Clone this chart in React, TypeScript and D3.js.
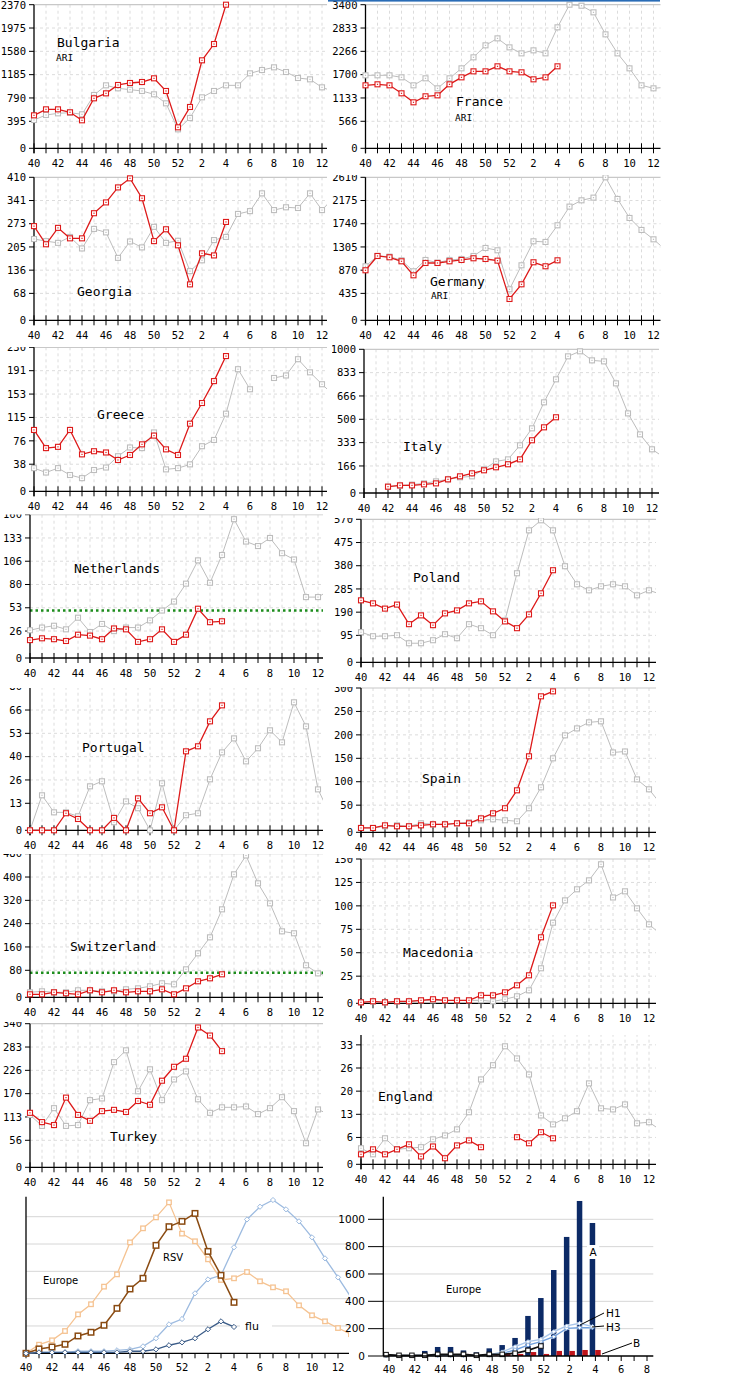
import React, { useEffect, useRef } from "react";
import * as d3 from "d3";

// weeks of the season, 40 .. 13 (13 is only partly visible at the right edge)
const weeks = [40, 41, 42, 43, 44, 45, 46, 47, 48, 49, 50, 51, 52, 1, 2, 3, 4, 5, 6, 7, 8, 9, 10, 11, 12, 13];
const weekLabels = [40, 42, 44, 46, 48, 50, 52, 2, 4, 6, 8, 10, 12];
const shortWeeks = [40, 41, 42, 43, 44, 45, 46, 47, 48, 49, 50, 51, 52, 1, 2, 3, 4, 5, 6, 7, 8];
const shortLabels = [40, 42, 44, 46, 48, 50, 52, 2, 4, 6, 8];

// red = this season, gray = previous season
const bulgariaRed = [544, 643, 643, 594, 462, 825, 907, 1045, 1078, 1094, 1155, 946, 346, 682, 1452, 1721, 2370];
const bulgariaGray = [467, 550, 577, 588, 561, 880, 1039, 990, 968, 946, 891, 742, 313, 500, 841, 946, 1039, 1039, 1237, 1292, 1336, 1259, 1160, 1138, 1006, 935];
const franceRed = [1491, 1515, 1491, 1302, 1089, 1231, 1254, 1515, 1680, 1822, 1822, 1941, 1822, 1799, 1633, 1680, 1941];
const franceGray = [1728, 1728, 1728, 1680, 1491, 1657, 1420, 1657, 1893, 2154, 2438, 2603, 2390, 2248, 2319, 2248, 2864, 3400, 3376, 3219, 2698, 2248, 1893, 1491, 1420, 1444];
const georgiaRed = [270, 218, 265, 235, 235, 307, 338, 381, 407, 350, 227, 261, 215, 103, 192, 186, 282];
const georgiaGray = [233, 227, 222, 239, 206, 262, 252, 179, 226, 209, 268, 222, 228, 141, 172, 230, 239, 305, 313, 364, 316, 324, 322, 364, 316, 353];
const germanyRed = [913, 1174, 1150, 1077, 821, 1046, 1046, 1077, 1101, 1132, 1119, 1089, 389, 657, 1059, 986, 1095];
const germanyGray = [986, 1174, 1162, 1095, 894, 1101, 1053, 1101, 1119, 1174, 1320, 1278, 566, 1004, 1442, 1430, 1734, 2075, 2190, 2239, 2610, 2215, 1868, 1649, 1478, 1284];
const greeceRed = [98, 69, 71, 98, 59, 64, 62, 50, 58, 75, 89, 67, 58, 108, 141, 176, 216];
const greeceGray = [37, 30, 37, 26, 21, 34, 38, 56, 70, 69, 94, 35, 37, 43, 72, 82, 124, 195, 163, null, 181, 185, 211, 190, 171, 153];
const italyRed = [null, null, 44, 53, 53, 60, 67, 95, 116, 137, 158, 179, 200, 234, 367, 457, 527];
const italyGray = [null, null, 44, 51, 58, 67, 81, 95, 109, 116, 165, 220, 234, 332, 450, 631, 791, 951, 986, 923, 916, 763, 554, 408, 304, 248];
const netherlandsRed = [20, 22, 21, 19, 26, 25, 21, 33, 32, 18, 21, 32, 18, 26, 55, 40, 41];
const netherlandsGray = [31, 34, 36, 32, 45, 29, 38, 30, 34, 34, 42, 53, 63, 83, 109, 84, 115, 155, 130, 125, 134, 117, 110, 68, 68, 76];
const polandRed = [247, 235, 214, 230, 152, 187, 148, 195, 207, 235, 243, 203, 163, 136, 191, 275, 367];
const polandGray = [120, 104, 104, 108, 76, 76, 88, 112, 96, 152, 136, 108, 167, 355, 526, 566, 526, 383, 311, 287, 303, 311, 303, 267, 287, 271];
const portugalRed = [0, 0, 0, 9.5, 6.3, 0, 0, 6.9, 0, 17.8, 9.5, 12.8, 0, 44, 46.8, 60.7, 69.6];
const portugalGray = [0, 19.5, 10, 10, 7.8, 24.5, 27.3, 4.5, 16.1, 12.3, 0, 26.2, 0, 8.4, 9.5, 28.4, 43.4, 51.2, 38.4, 45.7, 55.7, 49, 71.3, 57.9, 22.8, 8.9];
const spainRed = [9, 9, 14.5, 12.5, 12.5, 14.5, 16.6, 16.6, 18.7, 18.7, 29, 39.5, 50, 87.3, 158, 282.7, 293];
const spainGray = [9, 9, 12.5, 14.5, 12.5, 18.7, 16.6, 16.6, 18.7, 20.8, 25, 27, 25, 22.9, 50, 93.5, 153.8, 201.6, 216, 228.6, 230.7, 166, 168, 110, 89.4, 58];
const switzerlandRed = [10, 10, 16.7, 13.4, 10, 23.4, 16.7, 23.4, 16.7, 20, 20, 26.7, 10, 30, 53.5, 63.5, 76.8];
const switzerlandGray = [16.7, 20, 16.7, 16.7, 23.4, 23.4, 20, 20, 26.7, 30, 36.8, 46.8, 43.4, 93.5, 147, 200.5, 294, 411, 474, 381, 314, 220.5, 214, 107, 80, 67];
const macedoniaRed = [1, 2.1, 1, 2.1, 2.1, 3.1, 4.2, 3.1, 3.1, 3.1, 8.3, 8.3, 11.4, 18.7, 29.1, 68.6, 101.8];
const macedoniaGray = [1, 2, 1, 2, 2, 3, 3, 3, 3, 3, 3.1, 2, 4.2, 7.3, 13.5, 36.4, 83.8, 107, 118.5, 127.8, 144.5, 110, 116.4, 98.7, 82.1, 71.4];
const turkeyRed = [129, 107, 100, 165, 124, 110, 133, 136, 131, 157, 148, 205, 238, 257, 331, 312, 275];
const turkeyGray = [124, 98, 140, 98, 100, 159, 163, 249, 277, 180, 232, 159, 208, 227, 161, 129, 142, 142, 144, 126, 140, 166, 133, 57, 137, 124];
const englandRed = [2.8, 4.2, 2.8, 4.2, 5.6, 2.2, 5.0, 1.7, 5.3, 6.7, 4.8, null, null, 7.6, 5.9, 9.0, 7.3];
const englandGray = [4.5, 2.8, 7.3, 4.2, 4.5, 4.8, 7.0, 8.1, 9.8, 14.6, 23.8, 27.8, 33.1, 29.7, 25.2, 13.7, 11.2, 12.9, 14.9, 22.7, 15.7, 15.4, 16.8, 11.5, 11.8, 9.5];

// Europe summary, RSV and flu (gridlines every 20 on a 0..100 scale)
const rsvPrev = [0, 6.3, 9.5, 16.3, 28.5, 35.9, 48.8, 57.8, 81.2, 91.5, 99.5, 110.5, 87.6, 82, 68.8, 53.7, 54.9, 59.5, 52.7, 48.3, 45.4, 35.1, 27.8, 23.4, 18.5, 14];
const rsvCur = [0, 3.2, 4.6, 6.6, 12.7, 15.4, 20.5, 32.9, 47.1, 54.9, 79, 92.7, 96.6, 102.4, 74.6, 57.1, 37.3];
const fluPrev = [0, 0.7, 0.7, 0.7, 1.5, 1.5, 1.5, 2.2, 2.9, 5.1, 11, 21.2, 25.1, 43.9, 54.1, 57.1, 77.6, 98, 107.3, 112.2, 105.4, 96.6, 84.9, 69.5, 55.6, 41];
const fluCur = [0, 0.7, 0.7, 0.7, 0.7, 0.7, 0.7, 0.7, 1.5, 1.5, 2.9, 5.9, 8, 11, 17.6, 23.4, 19.3];
const rsvGrid = [20, 40, 60, 80, 100];

// Europe virus detections
const virusA = [12, 10, 10, 37, 66, 66, 41, 27, 56, 80, 132, 293, 424, 629, 871, 1134, 973];
const virusB = [0, 0, 0, 0, 0, 0, 15, 12, 15, 20, 15, 29, 15, 37, 37, 44, 44];
const virusH1 = [5, 4, 4, 5, 6, 6, 6, 5, 8, 30, 68, 105, 122, 178, 220, 239, 215];
const virusH3 = [3, 3, 3, 4, 4, 4, 4, 4, 6, 20, 44, 80, 105, 141, 202, 207, 207];
const sentinel = [10, 5, 5, 5, 12, 12, 12, 5, 12, 12, 20, 41, 73];
const virusTicks = [0, 200, 400, 600, 800, 1000];

const panels = [
  { name: "Bulgaria", sub: "ARI", max: 2370, red: bulgariaRed, gray: bulgariaGray, x0: 34, w: 293, top: 4.7, axis: 148.3, clipTop: 0, cl: 0, cr: 332, tx: 57, ty: 47, sx: 56, sy: 61 },
  { name: "France", sub: "ARI", max: 3400, red: franceRed, gray: franceGray, x0: 365.5, w: 295, top: 4.7, axis: 148.3, clipTop: 0, cl: 332, cr: 730, tx: 456, ty: 106, sx: 455, sy: 121 },
  { name: "Georgia", max: 410, red: georgiaRed, gray: georgiaGray, x0: 34, w: 293, top: 177.3, axis: 320.3, clipTop: 171, cl: 0, cr: 332, tx: 77, ty: 296 },
  { name: "Germany", sub: "ARI", max: 2610, red: germanyRed, gray: germanyGray, x0: 365.5, w: 295, top: 177.3, axis: 320.3, clipTop: 175, cl: 332, cr: 730, tx: 430, ty: 286, sx: 431, sy: 299 },
  { name: "Greece", max: 230, red: greeceRed, gray: greeceGray, x0: 34, w: 293, top: 347.3, axis: 491.3, clipTop: 347, cl: 0, cr: 332, tx: 97, ty: 419 },
  { name: "Italy", max: 1000, red: italyRed, gray: italyGray, x0: 364, w: 295, top: 349.3, axis: 493, clipTop: 343, cl: 332, cr: 730, tx: 403, ty: 451 },
  { name: "Netherlands", max: 160, red: netherlandsRed, gray: netherlandsGray, limit: 53, x0: 30, w: 293, top: 514.7, axis: 658, clipTop: 514.5, cl: 0, cr: 332, tx: 74, ty: 573 },
  { name: "Poland", max: 570, red: polandRed, gray: polandGray, x0: 361, w: 295, top: 519.3, axis: 662.3, clipTop: 518, cl: 332, cr: 730, tx: 413, ty: 582 },
  { name: "Portugal", max: 80, red: portugalRed, gray: portugalGray, x0: 30, w: 293, top: 686.7, axis: 830.3, clipTop: 688, cl: 0, cr: 332, tx: 82, ty: 752 },
  { name: "Spain", max: 300, red: spainRed, gray: spainGray, x0: 361, w: 295, top: 688, axis: 832.3, clipTop: 687, cl: 332, cr: 730, tx: 422, ty: 783 },
  { name: "Switzerland", max: 480, red: switzerlandRed, gray: switzerlandGray, limit: 82, x0: 30, w: 293, top: 853.7, axis: 997.3, clipTop: 854, cl: 0, cr: 332, tx: 70, ty: 951 },
  { name: "Macedonia", max: 150, red: macedoniaRed, gray: macedoniaGray, x0: 361, w: 295, top: 859, axis: 1003.3, clipTop: 858, cl: 332, cr: 730, tx: 403, ty: 957 },
  { name: "Turkey", max: 340, red: turkeyRed, gray: turkeyGray, x0: 30, w: 293, top: 1023.7, axis: 1167.3, clipTop: 1022, cl: 0, cr: 332, tx: 110, ty: 1141 },
  { name: "England", max: 40, red: englandRed, gray: englandGray, x0: 361, w: 295, top: 1021.7, axis: 1164.3, clipTop: 1035, cl: 332, cr: 730, tx: 378, ty: 1101 },
];

const MONO = "DejaVu Sans Mono";
const SANS = "DejaVu Sans";

function squares(g: any, pts: any[], color: string, size: number, sw: number) {
  g.selectAll(null)
    .data(pts)
    .enter()
    .append("rect")
    .attr("x", (d: any) => d[0] - size / 2)
    .attr("y", (d: any) => d[1] - size / 2)
    .attr("width", size)
    .attr("height", size)
    .attr("fill", "white")
    .attr("stroke", color)
    .attr("stroke-width", sw);
}

function diamonds(g: any, pts: any[], color: string, r: number) {
  g.selectAll(null)
    .data(pts)
    .enter()
    .append("path")
    .attr("d", (d: any) => `M${d[0]},${d[1] - r}L${d[0] + r},${d[1]}L${d[0]},${d[1] + r}L${d[0] - r},${d[1]}Z`)
    .attr("fill", "white")
    .attr("stroke", color)
    .attr("stroke-width", 1);
}

function drawPanel(svg: any, defs: any, p: any, i: number) {
  const right = p.x0 + p.w;
  const x = d3.scalePoint().domain(weeks.map(String)).range([p.x0, p.x0 + 25 * 12]);
  const y = d3.scaleLinear().domain([0, p.max]).range([p.axis, p.top]);
  // grid ticks sit a little above the axis line in the original
  const yGrid = d3.scaleLinear().domain([0, p.max]).range([p.axis - 3.7, p.top]);
  const ticks = d3.range(7).map((k) => (p.max * k) / 6);

  defs.append("clipPath").attr("id", "panel" + i).append("rect")
    .attr("x", p.cl).attr("y", p.clipTop).attr("width", p.cr - p.cl).attr("height", p.axis + 26 - p.clipTop);
  defs.append("clipPath").attr("id", "plot" + i).append("rect")
    .attr("x", p.x0 - 4).attr("y", p.clipTop).attr("width", right - p.x0 + 4).attr("height", p.axis + 6 - p.clipTop);

  const g = svg.append("g").attr("clip-path", `url(#panel${i})`);

  // vertical dashed grid
  g.selectAll(null)
    .data(weeks.slice(1).filter((w) => (x(String(w)) as number) <= right))
    .enter()
    .append("line")
    .attr("x1", (w: number) => x(String(w)))
    .attr("x2", (w: number) => x(String(w)))
    .attr("y1", p.top)
    .attr("y2", p.axis)
    .attr("stroke", "#dcdcdc")
    .attr("stroke-dasharray", "3,3");
  // horizontal grid
  g.selectAll(null)
    .data(ticks.slice(1, 6))
    .enter()
    .append("line")
    .attr("x1", p.x0)
    .attr("x2", right)
    .attr("y1", (v: number) => yGrid(v))
    .attr("y2", (v: number) => yGrid(v))
    .attr("stroke", "#dcdcdc")
    .attr("stroke-dasharray", "3,3");
  g.append("line")
    .attr("x1", p.x0).attr("x2", right)
    .attr("y1", p.top).attr("y2", p.top)
    .attr("stroke", "#c8c8c8").attr("stroke-width", 1.2);

  if (p.limit) {
    g.append("line")
      .attr("x1", p.x0).attr("x2", right)
      .attr("y1", y(p.limit)).attr("y2", y(p.limit))
      .attr("stroke", "#1d8c1d").attr("stroke-width", 2.5)
      .attr("stroke-dasharray", "2.5,3");
  }

  // axes
  g.append("line").attr("x1", p.x0).attr("x2", p.x0).attr("y1", p.top).attr("y2", p.axis + 5).attr("stroke", "#000").attr("stroke-width", 1.3);
  g.append("line").attr("x1", p.x0).attr("x2", right).attr("y1", p.axis).attr("y2", p.axis).attr("stroke", "#000").attr("stroke-width", 1.3);
  g.selectAll(null)
    .data(weeks.filter((w) => (x(String(w)) as number) <= right))
    .enter()
    .append("line")
    .attr("x1", (w: number) => x(String(w)))
    .attr("x2", (w: number) => x(String(w)))
    .attr("y1", p.axis - 5)
    .attr("y2", p.axis + 5)
    .attr("stroke", "#000");
  g.selectAll(null)
    .data(weekLabels)
    .enter()
    .append("text")
    .attr("x", (w: number) => x(String(w)))
    .attr("y", p.axis + 19)
    .attr("text-anchor", "middle")
    .attr("font-family", MONO)
    .attr("font-size", 10.5)
    .text((w: number) => w);
  const ty = (v: number, k: number) => (k === 0 ? p.axis : yGrid(v));
  g.selectAll(null)
    .data(ticks)
    .enter()
    .append("line")
    .attr("x1", p.x0 - 5)
    .attr("x2", p.x0)
    .attr("y1", (v: number, k: number) => ty(v, k))
    .attr("y2", (v: number, k: number) => ty(v, k))
    .attr("stroke", "#000");
  g.selectAll(null)
    .data(ticks)
    .enter()
    .append("text")
    .attr("x", p.x0 - 8)
    .attr("y", (v: number, k: number) => Math.max(ty(v, k), 5.2))
    .attr("dy", "0.35em")
    .attr("text-anchor", "end")
    .attr("font-family", MONO)
    .attr("font-size", 10.5)
    .text((v: number) => Math.floor(v + 1e-9));

  // series
  const plot = g.append("g").attr("clip-path", `url(#plot${i})`);
  const series = [
    { vals: p.gray, color: "#bdbdbd", w: 1 },
    { vals: p.red, color: "#dd1a1a", w: 1.3 },
  ];
  series.forEach((s) => {
    const pts = s.vals.map((v: any, k: number) => (v == null ? null : [x(String(weeks[k])) as number, y(v)]));
    const line = d3.line<any>().defined((d) => d != null).x((d) => d[0]).y((d) => d[1]);
    plot.append("path").attr("d", line(pts)).attr("fill", "none").attr("stroke", s.color).attr("stroke-width", s.w);
    const real = pts.filter((d: any) => d != null);
    squares(plot, real, s.color, 5, 1.1);
    plot.selectAll(null).data(real).enter().append("rect")
      .attr("x", (d: any) => d[0] - 0.6).attr("y", (d: any) => d[1] - 0.6)
      .attr("width", 1.2).attr("height", 1.2).attr("fill", s.color);
  });

  g.append("text").attr("x", p.tx).attr("y", p.ty).attr("font-family", MONO).attr("font-size", 13).text(p.name);
  if (p.sub) {
    g.append("text").attr("x", p.sx).attr("y", p.sy).attr("font-family", MONO).attr("font-size", 9.5).text(p.sub);
  }
}

function drawRsvFlu(svg: any, defs: any) {
  const x0 = 26, right = 349, axis = 1353.3, top = 1196.7;
  const x = d3.scalePoint().domain(weeks.map(String)).range([x0, x0 + 25 * 13]);
  const y = d3.scaleLinear().domain([0, 100]).range([axis, 1216.7]);

  defs.append("clipPath").attr("id", "rsvPlot").append("rect").attr("x", x0 - 6).attr("y", 1190).attr("width", right - x0 + 6).attr("height", 170);
  const g = svg.append("g");

  g.selectAll(null).data(rsvGrid).enter().append("line")
    .attr("x1", x0).attr("x2", right)
    .attr("y1", (v: number) => y(v)).attr("y2", (v: number) => y(v))
    .attr("stroke", "#d6d6d6");

  g.append("line").attr("x1", x0).attr("x2", x0).attr("y1", top).attr("y2", axis).attr("stroke", "#000").attr("stroke-width", 1.3);
  g.append("line").attr("x1", x0).attr("x2", right).attr("y1", axis).attr("y2", axis).attr("stroke", "#000").attr("stroke-width", 1.3);
  g.selectAll(null).data(weeks.filter((w) => (x(String(w)) as number) <= right)).enter().append("line")
    .attr("x1", (w: number) => x(String(w))).attr("x2", (w: number) => x(String(w)))
    .attr("y1", axis).attr("y2", axis + 5).attr("stroke", "#000");
  g.selectAll(null).data(weekLabels).enter().append("text")
    .attr("x", (w: number) => x(String(w))).attr("y", axis + 18)
    .attr("text-anchor", "middle").attr("font-family", MONO).attr("font-size", 10.5)
    .text((w: number) => w);

  const plot = g.append("g").attr("clip-path", "url(#rsvPlot)");
  const series = [
    { vals: rsvPrev, color: "#f5c392", w: 1.3, mark: "sq", size: 4.5 },
    { vals: fluPrev, color: "#9dbbe0", w: 1.3, mark: "di", size: 2.6 },
    { vals: rsvCur, color: "#8a4b12", w: 1.5, mark: "sq", size: 5.5 },
    { vals: fluCur, color: "#3b5c88", w: 1.3, mark: "di", size: 2.6 },
  ];
  series.forEach((s) => {
    const pts = s.vals.map((v, k) => [x(String(weeks[k])) as number, y(v)]);
    plot.append("path").attr("d", d3.line()(pts as any)).attr("fill", "none").attr("stroke", s.color).attr("stroke-width", s.w);
    if (s.mark === "sq") squares(plot, pts, s.color, s.size, s.w);
    else diamonds(plot, pts, s.color, s.size);
  });

  g.append("text").attr("x", 43).attr("y", 1284).attr("font-family", SANS).attr("font-size", 10).text("Europe");
  g.append("text").attr("x", 163).attr("y", 1261).attr("font-family", SANS).attr("font-size", 10).text("RSV");
  g.append("rect").attr("x", 240).attr("y", 1319).attr("width", 32).attr("height", 14).attr("fill", "white");
  g.append("text").attr("x", 245).attr("y", 1330).attr("font-family", SANS).attr("font-size", 11).text("flu");
}

function drawViruses(svg: any) {
  const x0 = 383.3, right = 653.3, axis = 1356, top = 1196.7;
  const x = d3.scalePoint().domain(shortWeeks.map(String)).range([389, 389 + 20 * 12.9]);
  const y = d3.scaleLinear().domain([0, 1000]).range([axis, 1219.3]);
  const sub = d3.scaleBand().domain(["A", "B"]).range([-5.7, 5.3]);
  const g = svg.append("g");

  g.selectAll(null).data(virusTicks.slice(1)).enter().append("line")
    .attr("x1", x0).attr("x2", right)
    .attr("y1", (v: number) => y(v)).attr("y2", (v: number) => y(v))
    .attr("stroke", "#d6d6d6");
  g.selectAll(null).data(virusTicks).enter().append("line")
    .attr("x1", 368).attr("x2", x0)
    .attr("y1", (v: number) => y(v)).attr("y2", (v: number) => y(v))
    .attr("stroke", "#000");
  g.selectAll(null).data(virusTicks).enter().append("text")
    .attr("x", 365).attr("y", (v: number) => y(v)).attr("dy", "0.35em").attr("text-anchor", "end")
    .attr("font-family", SANS).attr("font-size", 10.5).text((v: number) => v);

  // bars
  const bar = (vals: number[], key: string, color: string) =>
    g.selectAll(null).data(vals).enter().append("rect")
      .attr("x", (v: number, k: number) => (x(String(shortWeeks[k])) as number) + (sub(key) as number))
      .attr("y", (v: number) => y(v))
      .attr("width", sub.bandwidth())
      .attr("height", (v: number) => axis - y(v))
      .attr("fill", color);
  bar(virusA, "A", "#0c2a66");
  bar(virusB, "B", "#c0151b");

  const cx = (k: number) => (x(String(shortWeeks[k])) as number) - 2.9;
  const lines = [
    { vals: virusH3, color: "#6f9fdc" },
    { vals: virusH1, color: "#a9c6ea" },
  ];
  lines.forEach((s) => {
    const pts = s.vals.map((v, k) => [cx(k), y(v)]);
    g.append("path").attr("d", d3.line()(pts as any)).attr("fill", "none").attr("stroke", "white").attr("stroke-width", 3).attr("opacity", 0.7);
    g.append("path").attr("d", d3.line()(pts as any)).attr("fill", "none").attr("stroke", s.color).attr("stroke-width", 1.4);
    diamonds(g, pts, s.color, 2);
  });
  const sPts = sentinel.map((v, k) => [cx(k), y(v)]);
  g.append("path").attr("d", d3.line()(sPts as any)).attr("fill", "none").attr("stroke", "#111").attr("stroke-width", 1.8);
  squares(g, sPts, "#111", 4.5, 1);

  g.append("line").attr("x1", x0).attr("x2", x0).attr("y1", top).attr("y2", axis).attr("stroke", "#000").attr("stroke-width", 1.3);
  g.append("line").attr("x1", x0).attr("x2", right).attr("y1", axis).attr("y2", axis).attr("stroke", "#000").attr("stroke-width", 1.3);
  g.selectAll(null).data(shortWeeks).enter().append("line")
    .attr("x1", (w: number) => x(String(w))).attr("x2", (w: number) => x(String(w)))
    .attr("y1", axis).attr("y2", axis + 5).attr("stroke", "#000");
  g.selectAll(null).data(shortLabels).enter().append("text")
    .attr("x", (w: number) => x(String(w))).attr("y", axis + 17)
    .attr("text-anchor", "middle").attr("font-family", MONO).attr("font-size", 10.5)
    .text((w: number) => w);

  g.append("text").attr("x", 446).attr("y", 1293).attr("font-family", SANS).attr("font-size", 10).text("Europe");
  g.append("rect").attr("x", 587).attr("y", 1245).attr("width", 12).attr("height", 14).attr("fill", "white");
  g.append("text").attr("x", 593).attr("y", 1256).attr("text-anchor", "middle").attr("font-family", SANS).attr("font-size", 10.5).text("A");
  const leaders = [
    [604, 1313, 580, 1325],
    [604, 1326, 592, 1327],
    [632, 1343, 602, 1354],
  ];
  g.selectAll(null).data(leaders).enter().append("line")
    .attr("x1", (d: number[]) => d[0]).attr("y1", (d: number[]) => d[1])
    .attr("x2", (d: number[]) => d[2]).attr("y2", (d: number[]) => d[3])
    .attr("stroke", "#000");
  g.append("text").attr("x", 606).attr("y", 1317).attr("font-family", SANS).attr("font-size", 10.5).text("H1");
  g.append("text").attr("x", 606).attr("y", 1331).attr("font-family", SANS).attr("font-size", 10.5).text("H3");
  g.append("text").attr("x", 633).attr("y", 1347).attr("font-family", SANS).attr("font-size", 10.5).text("B");
}

export default function App() {
  const ref = useRef<SVGSVGElement>(null);

  useEffect(() => {
    const svg = d3.select(ref.current);
    svg.selectAll("*").remove();
    const defs = svg.append("defs");
    panels.forEach((p, i) => drawPanel(svg, defs, p, i));
    // stray blue rule along the top of the France panel
    svg.append("rect").attr("x", 328).attr("y", 0).attr("width", 332).attr("height", 1.6).attr("fill", "#2a6cb6");
    drawRsvFlu(svg, defs);
    drawViruses(svg);
  }, []);

  return (
    <svg
      ref={ref}
      width={730}
      height={1400}
      style={{ position: "absolute", left: 0, top: 0, background: "white" }}
    />
  );
}
